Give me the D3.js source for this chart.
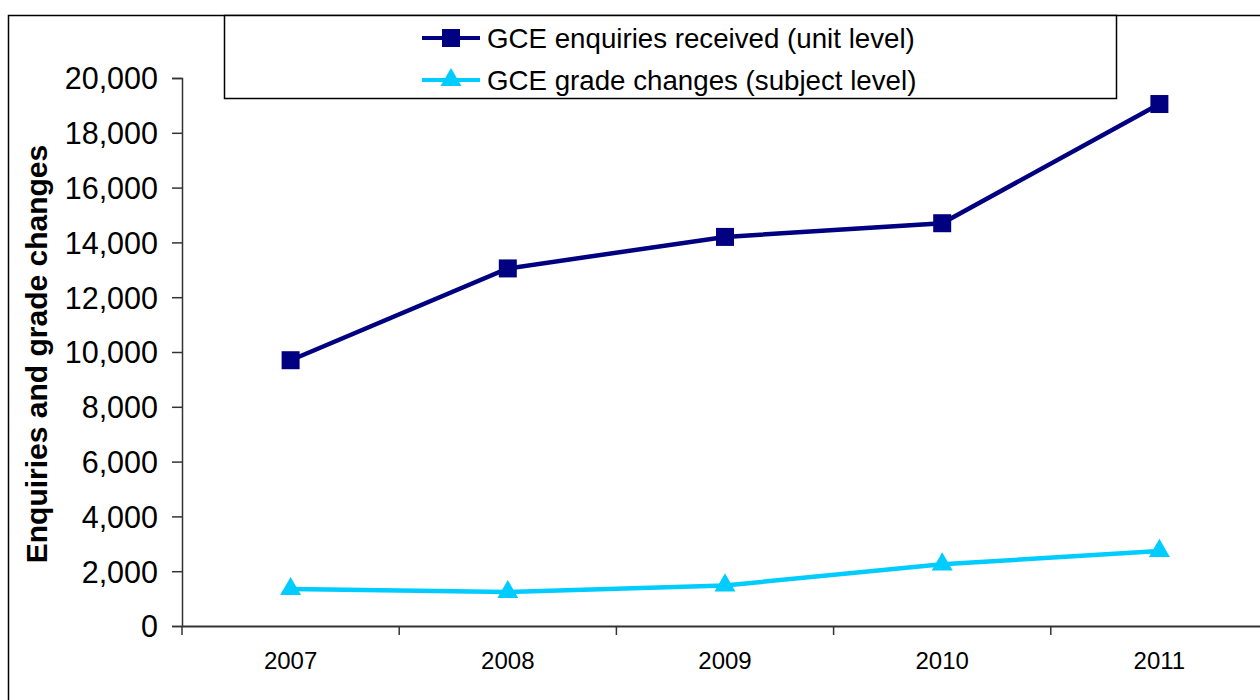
<!DOCTYPE html>
<html>
<head>
<meta charset="utf-8">
<script src="https://cdn.jsdelivr.net/npm/d3@7"></script>
<style>
  body { margin: 0; background: #fff; }
  svg { display: block; font-family: "Liberation Sans", Arial, sans-serif; }
</style>
</head>
<body>
<svg id="chart" width="1260" height="700"></svg>
<script>
const years = ["2007", "2008", "2009", "2010", "2011"];
const enquiries = [9700, 13050, 14200, 14700, 19050];
const gradeChanges = [1350, 1240, 1480, 2250, 2740];
const yTicks = [0, 2000, 4000, 6000, 8000, 10000, 12000, 14000, 16000, 18000, 20000];
const seriesNames = ["GCE enquiries received (unit level)", "GCE grade changes (subject level)"];
const seriesColors = ["#000080", "#00CCFF"];

const svg = d3.select("#chart");
const plotLeft = 182, plotRight = 1268, plotTop = 78, plotBottom = 626;

// outer border
svg.append("rect").attr("x", 8.5).attr("y", 15.5).attr("width", 1300).attr("height", 800)
  .attr("fill", "#fff").attr("stroke", "#000").attr("stroke-width", 1.5);

const x = d3.scaleBand().domain(years).range([plotLeft, plotRight]);
const y = d3.scaleLinear().domain([0, 20000]).range([plotBottom, plotTop]);

// y axis
const yAxis = d3.axisLeft(y).tickValues(yTicks).tickSize(10).tickPadding(14)
  .tickFormat(d3.format(","));
const gy = svg.append("g").attr("transform", `translate(${plotLeft},0)`).call(yAxis);
gy.select(".domain").attr("stroke", "#333").attr("stroke-width", 1.5);
gy.selectAll(".tick line").attr("stroke", "#333").attr("stroke-width", 1.5);
gy.selectAll(".tick text").attr("font-size", 30.5).attr("fill", "#000")
  .attr("font-family", "Liberation Sans, Arial, sans-serif").attr("dy", "0.36em");

// x axis
const xAxis = d3.axisBottom(x).tickSize(0).tickPadding(26);
const gx = svg.append("g").attr("transform", `translate(0,${plotBottom})`).call(xAxis);
gx.select(".domain").attr("stroke", "#333").attr("stroke-width", 2);
gx.selectAll(".tick text").attr("font-size", 24).attr("fill", "#000")
  .attr("font-family", "Liberation Sans, Arial, sans-serif");
// category boundary ticks
gx.selectAll(".bt").data(years).enter().append("line").attr("class", "bt")
  .attr("x1", d => x(d)).attr("x2", d => x(d)).attr("y1", 0).attr("y2", 9)
  .attr("stroke", "#333").attr("stroke-width", 1.5);

// y label
svg.append("text").attr("transform", `translate(47,${(plotTop + plotBottom) / 2 + 2}) rotate(-90)`)
  .attr("text-anchor", "middle").attr("font-weight", "bold").attr("font-size", 30)
  .text("Enquiries and grade changes");

const cx = d => x(d) + x.bandwidth() / 2;
const line = d3.line().x((d, i) => cx(years[i])).y(d => y(d));

// series 1
svg.append("path").datum(enquiries).attr("d", line).attr("fill", "none")
  .attr("stroke", seriesColors[0]).attr("stroke-width", 4.5);
svg.selectAll(".sq").data(enquiries).enter().append("rect").attr("class", "sq")
  .attr("x", (d, i) => cx(years[i]) - 9).attr("y", d => y(d) - 9)
  .attr("width", 18).attr("height", 18).attr("fill", seriesColors[0]);

// series 2
svg.append("path").datum(gradeChanges).attr("d", line).attr("fill", "none")
  .attr("stroke", seriesColors[1]).attr("stroke-width", 4.5);
const tri = d3.symbol().type(d3.symbolTriangle).size(190);
svg.selectAll(".tr").data(gradeChanges).enter().append("path").attr("class", "tr")
  .attr("d", tri).attr("transform", (d, i) => `translate(${cx(years[i])},${y(d)})`)
  .attr("fill", seriesColors[1]);

// legend
const lg = svg.append("g");
lg.append("rect").attr("x", 224.5).attr("y", 15.5).attr("width", 892).attr("height", 83)
  .attr("fill", "#fff").attr("stroke", "#000").attr("stroke-width", 1.5);
const rowsY = [38, 80];
seriesNames.forEach((name, i) => {
  lg.append("line").attr("x1", 422).attr("x2", 480).attr("y1", rowsY[i]).attr("y2", rowsY[i])
    .attr("stroke", seriesColors[i]).attr("stroke-width", 4);
  if (i === 0) {
    lg.append("rect").attr("x", 451 - 9).attr("y", rowsY[i] - 9).attr("width", 18).attr("height", 18)
      .attr("fill", seriesColors[i]);
  } else {
    lg.append("path").attr("d", tri).attr("transform", `translate(451,${rowsY[i]})`)
      .attr("fill", seriesColors[i]);
  }
  lg.append("text").attr("x", 487).attr("y", rowsY[i]).attr("dy", "0.36em")
    .attr("font-size", 27.7).text(name);
});
</script>
</body>
</html>
